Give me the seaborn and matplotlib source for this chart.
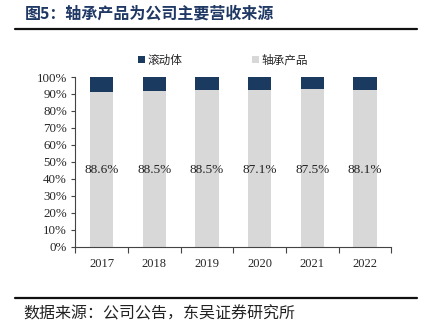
import numpy as np
import pandas as pd
import matplotlib
matplotlib.use("Agg")
import matplotlib.pyplot as plt
from matplotlib.patches import Patch
from matplotlib.lines import Line2D
import seaborn as sns

years = ["2017", "2018", "2019", "2020", "2021", "2022"]
bearing = [88.6, 88.5, 88.5, 87.1, 87.5, 88.1]      # 轴承产品 (labels)
roller = [8.4, 8.0, 7.4, 7.0, 6.5, 7.3]             # 滚动体 (estimated)
yticks = [0, 10, 20, 30, 40, 50, 60, 70, 80, 90, 100]

navy = "#1B3A5F"
gray = "#D8D8D8"

sns.set_theme(style="white")
plt.rcParams['font.family'] = ['Noto Sans CJK SC', 'DejaVu Sans']

share = [b / (b + r) * 100 for b, r in zip(bearing, roller)]
df = pd.DataFrame({"year": years, "total": [100] * len(years), "share": share})

fig = plt.figure(figsize=(4.21, 3.33), dpi=100)
ax = fig.add_axes([75.4 / 421, 86.3 / 333, (391.3 - 75.4) / 421, (256 - 86.3) / 333])

sns.barplot(data=df, x="year", y="total", color=navy, width=0.44, ax=ax,
            saturation=1, edgecolor="none")
sns.barplot(data=df, x="year", y="share", color=gray, width=0.44, ax=ax,
            saturation=1, edgecolor="none")

serif = ['Liberation Serif', 'DejaVu Serif']
for i, v in enumerate(bearing):
    ax.text(i, 45, f"{v}%", ha="center", va="center", fontsize=9.5,
            family=serif, color="#222222")

ax.set_ylim(0, 100)
ax.set_xlim(-0.5, len(years) - 0.5)
ax.set_yticks(yticks)
ax.set_yticklabels([f"{t}%" for t in yticks], family=serif, fontsize=9.3)
ax.set_xticks(range(len(years)))
ax.set_xticklabels(years, family=serif, fontsize=9)
ax.set_xticks(np.arange(-0.5, len(years), 1), minor=True)
ax.tick_params(axis="x", which="major", length=0, pad=8)
ax.tick_params(axis="x", which="minor", length=4, width=0.8, color="#444444", direction="out", bottom=True)
ax.tick_params(axis="y", which="major", length=3, width=0.8, color="#444444", direction="out", left=True, pad=3)
ax.set_xlabel("")
ax.set_ylabel("")
for s in ["top", "right"]:
    ax.spines[s].set_visible(False)
for s in ["left", "bottom"]:
    ax.spines[s].set_color("#444444")
    ax.spines[s].set_linewidth(0.8)

handles = [Patch(facecolor=navy, edgecolor="none", label="滚动体"),
           Patch(facecolor=gray, edgecolor="none", label="轴承产品")]
fig.legend(handles=handles, loc="center left", bbox_to_anchor=(138 / 421, 1 - 60 / 333),
           ncol=2, frameon=False, fontsize=8.4, handlelength=0.6, handleheight=0.6,
           handletextpad=0.2, columnspacing=6.0, borderpad=0, borderaxespad=0)

fig.text(25 / 421, 1 - 14 / 333, "图5：轴承产品为公司主要营收来源", fontsize=11.5,
         fontweight="bold", color="#1F3864", va="center", ha="left")
fig.add_artist(Line2D([15 / 421, 417 / 421], [1 - 29 / 333] * 2, color="#111111", lw=1.6))
fig.add_artist(Line2D([15 / 421, 417 / 421], [1 - 298 / 333] * 2, color="#111111", lw=1.6))
fig.text(23 / 421, 1 - 314 / 333, "数据来源：公司公告，东吴证券研究所", fontsize=11.5,
         color="#222222", va="center", ha="left")

fig.savefig("out.png", dpi=100)
